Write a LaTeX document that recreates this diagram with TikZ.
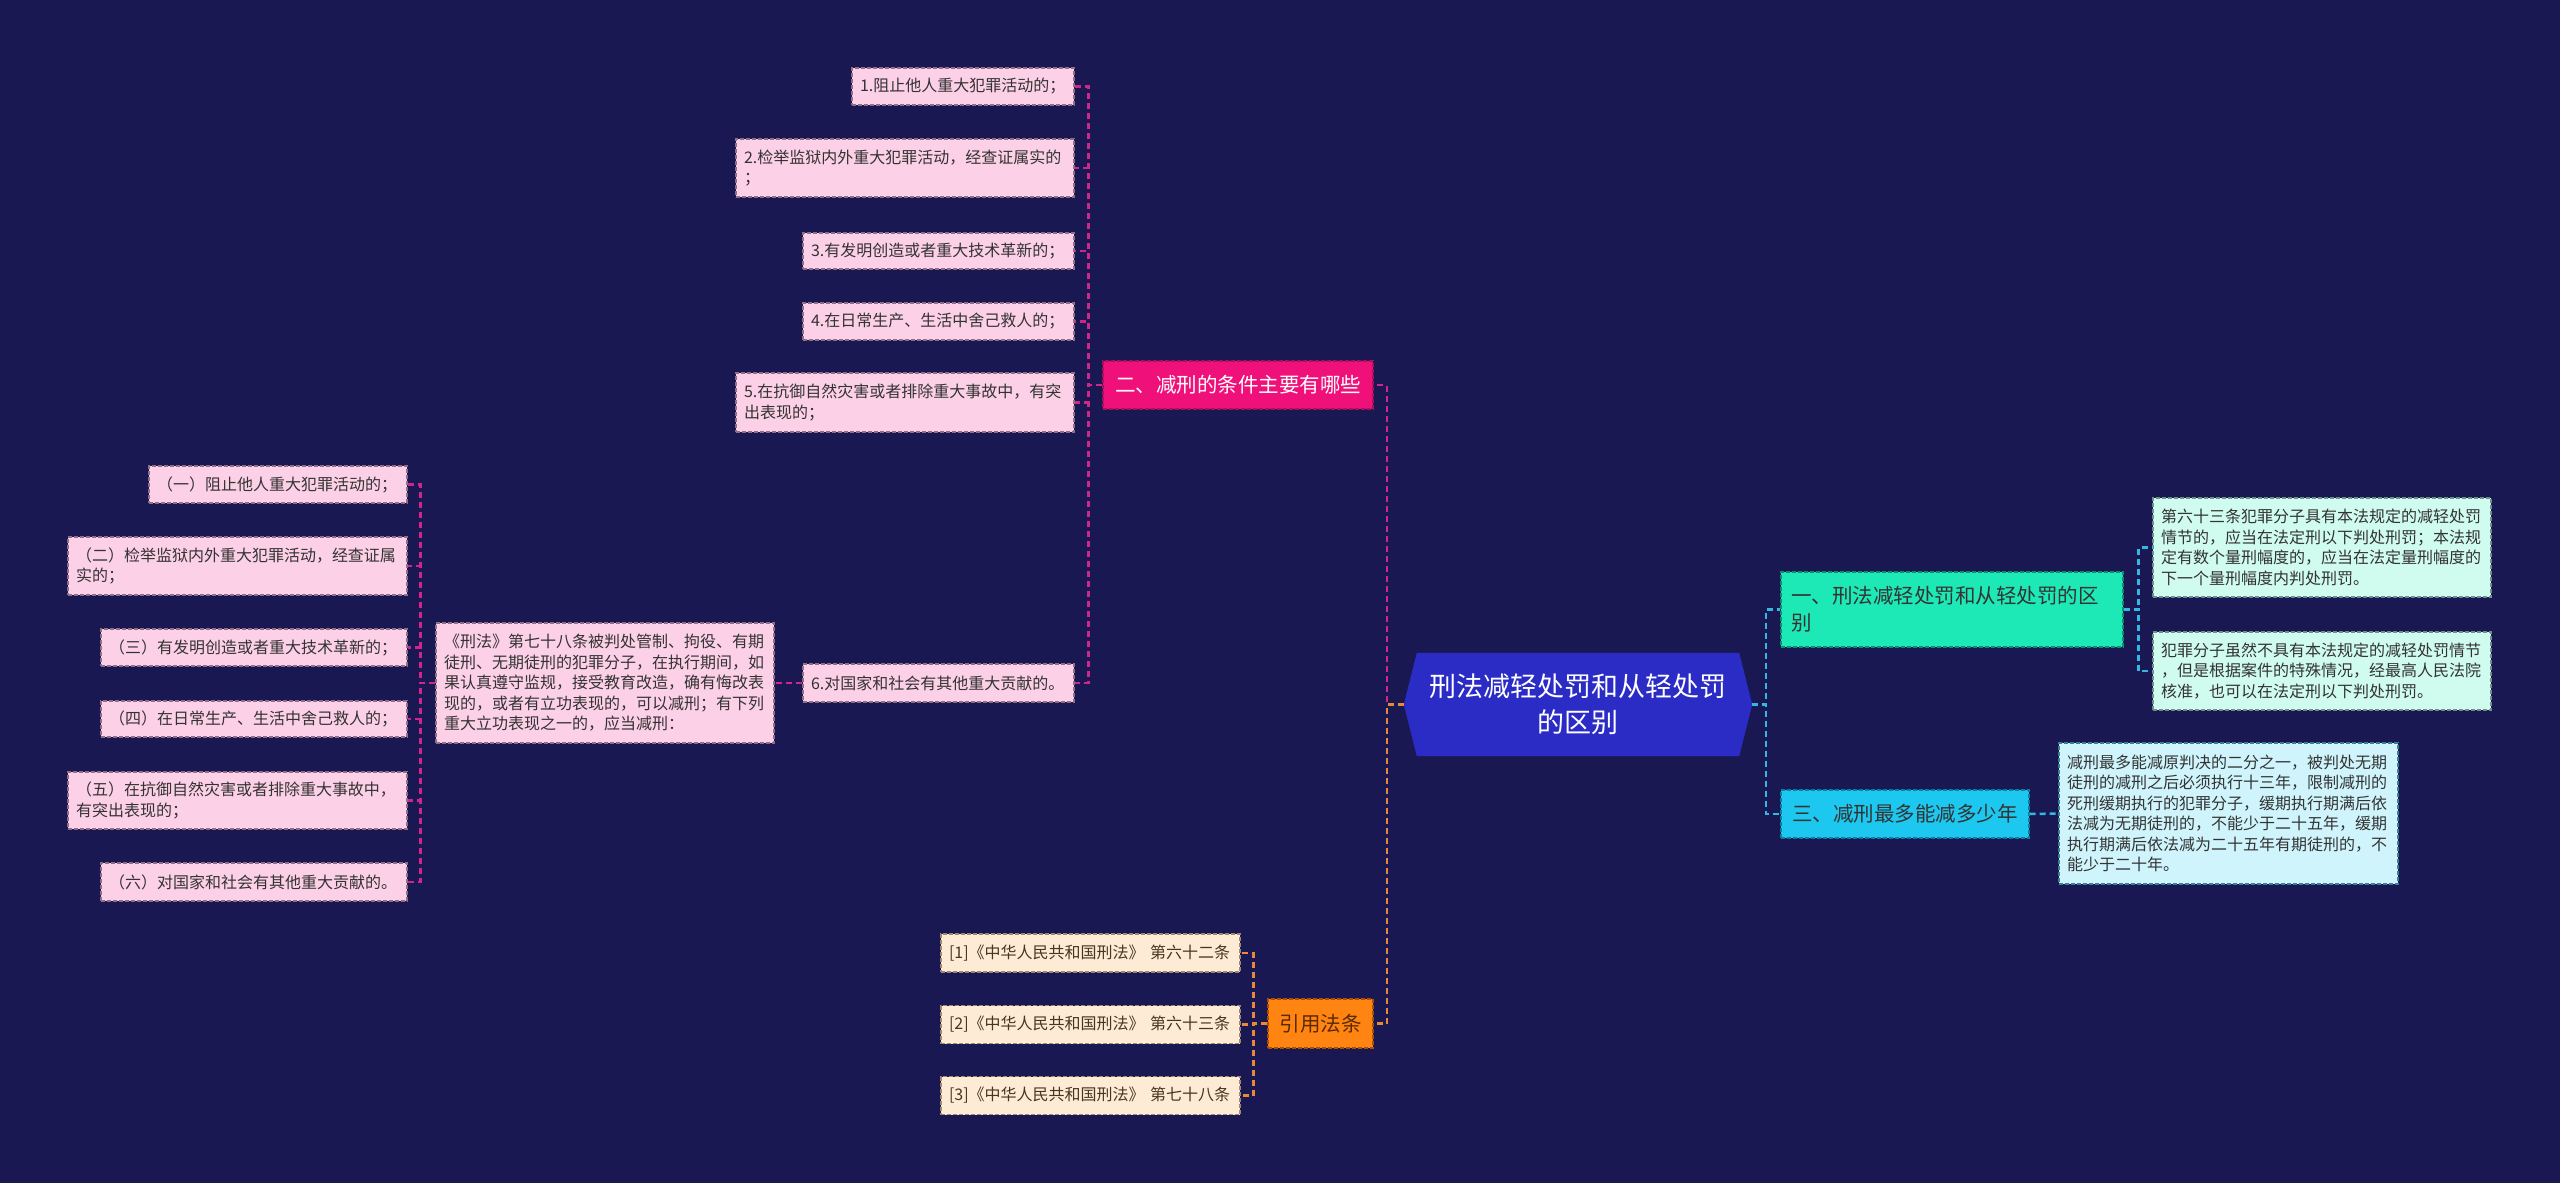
\documentclass[tikz,border=0pt]{standalone}
\usepackage{fontspec}
\setmainfont{Noto Sans CJK SC}
\usetikzlibrary{backgrounds}
\definecolor{bg}{HTML}{1A1852}
\definecolor{centerblue}{HTML}{2B2CC6}
\definecolor{pinknode}{HTML}{F0107A}
\definecolor{pinknodeborder}{HTML}{A8105A}
\definecolor{pinkfill}{HTML}{FCD0E6}
\definecolor{pinkborder}{HTML}{8E6F86}
\definecolor{pinkline}{HTML}{D0268A}
\definecolor{greennode}{HTML}{1DE9B6}
\definecolor{greenborder}{HTML}{0E8E70}
\definecolor{mintfill}{HTML}{D0FBEF}
\definecolor{mintborder}{HTML}{6E8F88}
\definecolor{cyannode}{HTML}{1CC8F0}
\definecolor{cyanborder}{HTML}{0B7FA0}
\definecolor{cyanfill}{HTML}{CFF4FC}
\definecolor{cyanline}{HTML}{35B8E0}
\definecolor{orangenode}{HTML}{FF8412}
\definecolor{orangeborder}{HTML}{A85200}
\definecolor{orangetext}{HTML}{5A2A00}
\definecolor{peach}{HTML}{FDEBD6}
\definecolor{peachborder}{HTML}{A08870}
\definecolor{peachtext}{HTML}{4A3520}
\definecolor{orangeline}{HTML}{E8893A}
\definecolor{leaftext}{HTML}{333333}
\begin{document}
\begin{tikzpicture}[x=1pt,y=-1pt,
  box/.style={draw, line width=1.2pt, dash pattern=on 4pt off 2pt, inner xsep=8pt, inner ysep=0pt, align=left, font=\fontsize{16}{20.5}\selectfont},
  pinkleaf/.style={box, fill=pinkfill, draw=pinkborder, text=leaftext},
  mintleaf/.style={box, fill=mintfill, draw=mintborder, text=leaftext},
  cyanleaf/.style={box, fill=cyanfill, draw=cyanborder!60!gray, text=leaftext},
  peachleaf/.style={box, fill=peach, draw=peachborder, text=peachtext},
  topic/.style={draw, line width=1.2pt, dash pattern=on 4pt off 2pt, inner xsep=10pt, inner ysep=0pt, align=center, font=\fontsize{20.5}{27}\selectfont},
  lnk/.style={line width=2.5pt, dash pattern=on 6pt off 4pt},
]
\useasboundingbox (0,0) rectangle (2560,1183);

% center
\node[align=center, text=white, font=\fontsize{27}{36}\selectfont, minimum width=348pt, minimum height=103pt, inner sep=0pt] (center) at (1578,704.5) {刑法减轻处罚和从轻处罚\\的区别};

% branch two
\node[topic, fill=pinknode, draw=pinknodeborder, text=white, minimum width=270pt, minimum height=48pt] (n2) at (1238,385) {二、减刑的条件主要有哪些};
\node[pinkleaf, text width=206pt, minimum height=37pt] (b1) at (963,86.5) {1.阻止他人重大犯罪活动的；};
\node[pinkleaf, text width=322pt, minimum height=58pt] (b2) at (905,168) {2.检举监狱内外重大犯罪活动，经查证属实的\\；};
\node[pinkleaf, text width=255pt, minimum height=36pt] (b3) at (938.5,251) {3.有发明创造或者重大技术革新的；};
\node[pinkleaf, text width=255pt, minimum height=37pt] (b4) at (938.5,321.5) {4.在日常生产、生活中舍己救人的；};
\node[pinkleaf, text width=322pt, minimum height=59pt] (b5) at (905,402.5) {5.在抗御自然灾害或者排除重大事故中，有突\\出表现的；};
\node[pinkleaf, text width=255pt, minimum height=38pt] (b6) at (938.5,683) {6.对国家和社会有其他重大贡献的。};
\node[pinkleaf, text width=322pt, minimum height=120pt] (law) at (605,683) {《刑法》第七十八条被判处管制、拘役、有期\\徒刑、无期徒刑的犯罪分子，在执行期间，如\\果认真遵守监规，接受教育改造，确有悔改表\\现的，或者有立功表现的，可以减刑；有下列\\重大立功表现之一的，应当减刑：};
\node[pinkleaf, text width=242pt, minimum height=37pt] (c1) at (278,484.5) {（一）阻止他人重大犯罪活动的；};
\node[pinkleaf, text width=323pt, minimum height=58pt] (c2) at (237.5,566) {（二）检举监狱内外重大犯罪活动，经查证属\\实的；};
\node[pinkleaf, text width=290pt, minimum height=37pt] (c3) at (254,647.5) {（三）有发明创造或者重大技术革新的；};
\node[pinkleaf, text width=290pt, minimum height=36pt] (c4) at (254,719) {（四）在日常生产、生活中舍己救人的；};
\node[pinkleaf, text width=323pt, minimum height=57pt] (c5) at (237.5,800.5) {（五）在抗御自然灾害或者排除重大事故中，\\有突出表现的；};
\node[pinkleaf, text width=290pt, minimum height=38pt] (c6) at (254,882) {（六）对国家和社会有其他重大贡献的。};

% citations
\node[topic, fill=orangenode, draw=orangeborder, text=orangetext, minimum width=105pt, minimum height=49pt] (ncite) at (1320.5,1023.5) {引用法条};
\node[peachleaf, text width=283pt, minimum height=38pt] (ref1) at (1090.5,953) {[1]《中华人民共和国刑法》 第六十二条};
\node[peachleaf, text width=283pt, minimum height=38pt] (ref2) at (1090.5,1024.5) {[2]《中华人民共和国刑法》 第六十三条};
\node[peachleaf, text width=283pt, minimum height=38pt] (ref3) at (1090.5,1095.5) {[3]《中华人民共和国刑法》 第七十八条};

% right side
\node[topic, fill=greennode, draw=greenborder, text=leaftext, align=left, text width=322pt, minimum height=75pt] (n1) at (1952,609.5) {一、刑法减轻处罚和从轻处罚的区\\别};
\node[mintleaf, text width=322pt, minimum height=99pt] (r1) at (2322,547.5) {第六十三条犯罪分子具有本法规定的减轻处罚\\情节的，应当在法定刑以下判处刑罚；本法规\\定有数个量刑幅度的，应当在法定量刑幅度的\\下一个量刑幅度内判处刑罚。};
\node[mintleaf, text width=322pt, minimum height=78pt] (r2) at (2322,671) {犯罪分子虽然不具有本法规定的减轻处罚情节\\，但是根据案件的特殊情况，经最高人民法院\\核准，也可以在法定刑以下判处刑罚。};
\node[topic, fill=cyannode, draw=cyanborder, text=leaftext, minimum width=248pt, minimum height=48pt] (n3) at (1905,814) {三、减刑最多能减多少年};
\node[cyanleaf, text width=323pt, minimum height=141pt] (r3) at (2228.5,813.5) {减刑最多能减原判决的二分之一，被判处无期\\徒刑的减刑之后必须执行十三年，限制减刑的\\死刑缓期执行的犯罪分子，缓期执行期满后依\\法减为无期徒刑的，不能少于二十五年，缓期\\执行期满后依法减为二十五年有期徒刑的，不\\能少于二十年。};

\begin{pgfonlayer}{background}
\fill[bg] (0,0) rectangle (2560,1183);
\fill[centerblue] ([xshift=13pt]center.north west) -- ([xshift=-13pt]center.north east) -- (center.east) -- ([xshift=-13pt]center.south east) -- ([xshift=13pt]center.south west) -- (center.west) -- cycle;
\end{pgfonlayer}

% connectors pink
\draw[lnk, pinkline] (center.west) -- ++(-17,0) |- (n2.east);
\foreach \b in {b1,b2,b3,b4,b5,b6}
  \draw[lnk, pinkline] (n2.west) -- ++(-14,0) |- (\b.east);
\draw[lnk, pinkline] (b6.west) -- (law.east);
\foreach \c in {c1,c2,c3,c4,c5,c6}
  \draw[lnk, pinkline] (law.west) -- ++(-15,0) |- (\c.east);
% connectors orange
\draw[lnk, orangeline] (center.west) -- ++(-17,0) |- (ncite.east);
\foreach \r in {ref1,ref2,ref3}
  \draw[lnk, orangeline] (ncite.west) -- ++(-14,0) |- (\r.east);
% connectors cyan
\draw[lnk, cyanline] (center.east) -- ++(14,0) |- (n1.west);
\draw[lnk, cyanline] (center.east) -- ++(14,0) |- (n3.west);
\draw[lnk, cyanline] (n1.east) -- ++(15,0) |- (r1.west);
\draw[lnk, cyanline] (n1.east) -- ++(15,0) |- (r2.west);
\draw[lnk, cyanline] (n3.east) -- (r3.west);
\end{tikzpicture}
\end{document}
